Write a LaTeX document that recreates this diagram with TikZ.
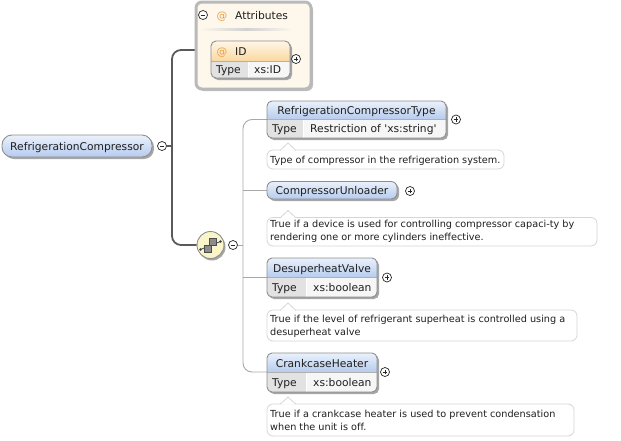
\documentclass[tikz,border=0pt]{standalone}
\usepackage{fontspec}
\setmainfont{DejaVu Sans}[Ligatures={TeXOff,CommonOff}]
\definecolor{bord}{HTML}{8E8E8E}
\definecolor{bluetop}{HTML}{EAF1FB}
\definecolor{bluebot}{HTML}{B6CBEE}
\definecolor{typecell}{HTML}{E2E2E2}
\definecolor{valcell}{HTML}{F6F6F6}
\definecolor{cream}{HTML}{FDF7EC}
\definecolor{attrbord}{HTML}{B9B9B9}
\definecolor{orgtop}{HTML}{FFF6E6}
\definecolor{orgbot}{HTML}{FAD9A0}
\definecolor{atcol}{HTML}{E9A048}
\definecolor{docbord}{HTML}{D6D6D6}
\definecolor{mainline}{HTML}{5A5A5A}
\definecolor{thinline}{HTML}{A8A8A8}
\definecolor{seqfill}{HTML}{FAF5C9}
\definecolor{shadowc}{HTML}{A6A6A6}
\newcommand\hfnt{\fontsize{10.7}{12}\selectfont}
\newcommand\dfnt{\fontsize{9.7}{12}\selectfont}
% blue element with type row: #1 name, #2 y1, #3 ym, #4 y2, #5 xd, #6 x2, #7 label, #8 type, #9 plus x
\newcommand\elemtyped[9]{%
  \fill[shadowc,rounded corners=5pt] (269,#2+2) rectangle (#6+2,#4+2);
  \begin{scope}
    \clip[rounded corners=5pt] (267,#2) rectangle (#6,#4);
    \shade[top color=bluetop,bottom color=bluebot] (267,#2) rectangle (#6,#3);
    \fill[typecell] (267,#3) rectangle (#5,#4);
    \fill[valcell] (#5,#3) rectangle (#6,#4);
  \end{scope}
  \draw[white,line width=1pt] (#5,#3) -- (#5,#4);
  \draw[bord!70,line width=0.6pt] (267,#3) -- (#6,#3);
  \draw[bord,line width=0.9pt,rounded corners=5pt] (267,#2) rectangle (#6,#4);
  \node[hdr] (#1) at ({(267+#6)/2},{#3-5}) {#7};
  \node[hdr,anchor=base west] (#1-typelbl) at (272,{#4-5.5}) {Type};
  \node[hdr,anchor=base west] (#1-type) at ({#5+7},{#4-5.5}) {#8};
  \node[plusc] (#1-plus) at (#9,#3) {};
  \coordinate (#1-in) at (267,#3);
}
% documentation box: #1 name, #2 y1, #3 y2, #4 x2
\newcommand\docframe[4]{%
  \draw[docbord,fill=white,line width=0.8pt,rounded corners=6pt] (267,#2) rectangle (#4,#3);
  \fill[white] (280.5,#2+0.6) -- (288,#2-7) -- (295.5,#2+0.6) -- cycle;
  \draw[docbord,line width=0.8pt] (280.5,#2) -- (288,#2-7) -- (295.5,#2);
}
\begin{document}
\begin{tikzpicture}[x=1pt,y=-1pt,
  hdr/.style={font=\hfnt,text=black!88,inner sep=0pt,anchor=base},
  doctext/.style={font=\dfnt,text=black!88,inner sep=0pt,anchor=base west},
  minusc/.style={circle,draw=black!85,fill=white,line width=0.7pt,minimum size=9pt,inner sep=0pt,
    path picture={\draw[line width=0.8pt] ([xshift=-2.3pt]path picture bounding box.center) -- ([xshift=2.3pt]path picture bounding box.center);}},
  plusc/.style={circle,draw=black!85,fill=white,line width=0.7pt,minimum size=9pt,inner sep=0pt,
    path picture={\draw[line width=0.8pt] ([xshift=-2.3pt]path picture bounding box.center) -- ([xshift=2.3pt]path picture bounding box.center);
      \draw[line width=0.8pt] ([yshift=-2.3pt]path picture bounding box.center) -- ([yshift=2.3pt]path picture bounding box.center);}},
  mainconn/.style={draw=mainline,line width=1.8pt,rounded corners=9pt},
  subconn/.style={draw=thinline,line width=0.9pt,rounded corners=9pt}]
\useasboundingbox (0,0) rectangle (621,440);

% ---------- coordinates for connectors
\coordinate (j1) at (172,146);
\coordinate (attrin) at (196,50);
\coordinate (j2) at (243,245);

% ---------- root element
\fill[shadowc,rounded corners=10pt] (4,137) rectangle (154,159);
\shade[top color=bluetop,bottom color=bluebot,rounded corners=10pt] (2,135) rectangle (152,157);
\draw[bord,line width=0.9pt,rounded corners=10pt] (2,135) rectangle (152,157);
\node[hdr] (rc) at (77,150.5) {RefrigerationCompressor};
\node[minusc] (rcminus) at (162,146) {};

% ---------- sequence compositor
\node[circle,fill=shadowc,minimum size=27pt,inner sep=0pt] at (212,247) {};
\node[circle,draw=bord,line width=0.9pt,fill=seqfill,minimum size=27pt,inner sep=0pt] (seq) at (210.5,245) {};
\draw[black!75,line width=0.8pt] (200.5,249.5) -- (220.5,241.5);
\fill[black!75] (200.5,249.5) circle (1.3pt);
\fill[black!75] (220.5,241.5) circle (1.3pt);
\draw[black!70,fill=black!45,line width=0.6pt] (204.5,245.5) rectangle (211,252);
\draw[black!70,fill=black!45,line width=0.6pt] (209.5,238.5) rectangle (216.5,245.5);
\node[minusc] (seqminus) at (233,245) {};

% ---------- main connectors
\draw[mainconn] (rcminus.east) -- (j1);
\draw[mainconn] (attrin) -| (j1) |- (seq.west);

% ---------- attributes box
\fill[shadowc!70,rounded corners=6pt] (198,4) rectangle (313,91);
\draw[attrbord,line width=3pt,fill=cream,rounded corners=6pt] (196,2) rectangle (311,89);
\node[minusc] (attrminus) at (203,15) {};
\node[hdr,text=atcol] (attrat) at (222,19) {@};
\node[hdr,anchor=base west] (attr) at (235,19) {Attributes};
\shade[left color=cream,right color=cream,middle color=black!18] (200,28.5) rectangle (292,30.5);

% ID attribute
\fill[shadowc,rounded corners=5pt] (213,43) rectangle (292,80);
\begin{scope}
  \clip[rounded corners=5pt] (211,41) rectangle (290,78);
  \shade[top color=orgtop,bottom color=orgbot] (211,41) rectangle (290,61);
  \fill[typecell] (211,61) rectangle (248,78);
  \fill[valcell] (248,61) rectangle (290,78);
\end{scope}
\draw[white,line width=1pt] (248,61) -- (248,78);
\draw[bord!70,line width=0.6pt] (211,61) -- (290,61);
\draw[bord,line width=0.9pt,rounded corners=5pt] (211,41) rectangle (290,78);
\node[hdr,text=atcol] (idat) at (222,55) {@};
\node[hdr,anchor=base west] (id) at (235,55) {ID};
\node[hdr,anchor=base west] (id-typelbl) at (216,73) {Type};
\node[hdr,anchor=base west] (id-type) at (254,73) {xs:ID};
\node[plusc] (idplus) at (296,59) {};

% ---------- sequence children connectors
\coordinate (rct-in) at (267,119.5);
\coordinate (cu-in) at (267,190);
\coordinate (dsv-in) at (267,277.5);
\coordinate (ch-in) at (267,372);
\draw[subconn] (seqminus.east) -- (j2);
\draw[subconn] (rct-in) -| (j2) |- (ch-in);
\draw[subconn] (cu-in) -- (cu-in -| j2);
\draw[subconn] (dsv-in) -- (dsv-in -| j2);

% ---------- RefrigerationCompressorType
\elemtyped{rct}{101}{119.5}{138}{303}{446}{RefrigerationCompressorType}{Restriction of 'xs:string'}{456}
\docframe{doc1}{150}{169}{504}
\node[doctext] (doc1) at (270,163.5) {Type of compressor in the refrigeration system.};

% ---------- CompressorUnloader
\fill[shadowc,rounded corners=6pt] (269,183.5) rectangle (399,201);
\shade[top color=bluetop,bottom color=bluebot,rounded corners=6pt] (267,181.5) rectangle (397,199);
\draw[bord,line width=0.9pt,rounded corners=6pt] (267,181.5) rectangle (397,199);
\node[hdr] (cu) at (332,194.5) {CompressorUnloader};
\node[plusc] (cu-plus) at (410,191) {};
\docframe{doc2}{217.5}{246}{597}
\node[doctext] (doc2a) at (270,227.5) {True if a device is used for controlling compressor capaci-ty by};
\node[doctext] (doc2b) at (270,240) {rendering one or more cylinders ineffective.};

% ---------- DesuperheatValve
\elemtyped{dsv}{258}{277.5}{297}{306}{377}{DesuperheatValve}{xs:boolean}{387}
\docframe{doc3}{310}{341}{577}
\node[doctext] (doc3a) at (270,322.5) {True if the level of refrigerant superheat is controlled using a};
\node[doctext] (doc3b) at (270,335) {desuperheat valve};

% ---------- CrankcaseHeater
\elemtyped{ch}{353}{372}{392}{306}{377}{CrankcaseHeater}{xs:boolean}{385}
\docframe{doc4}{404}{436}{574}
\node[doctext] (doc4a) at (270,417.5) {True if a crankcase heater is used to prevent condensation};
\node[doctext] (doc4b) at (270,430) {when the unit is off.};
\end{tikzpicture}
\end{document}
